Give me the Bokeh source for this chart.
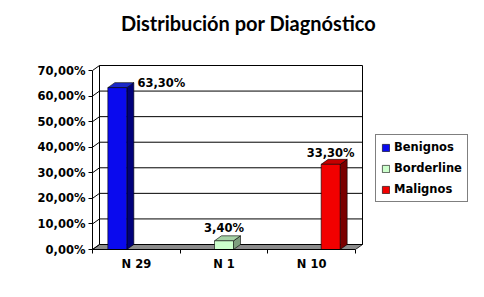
from bokeh.plotting import figure
from bokeh.models import Range1d, FixedTicker, ColumnDataSource, Legend, LegendItem, Label
from bokeh.embed import file_html
from bokeh.resources import INLINE
from bokeh.core.properties import value

# ---------------- data ----------------
chart_title = "Distribución por Diagnóstico"
categories = ["N 29", "N 1", "N 10"]
series_names = ["Benignos", "Borderline", "Malignos"]
benignos = [63.3, 0, 0]
borderline = [0, 3.4, 0]
malignos = [0, 0, 33.3]
y_ticks = [0, 10, 20, 30, 40, 50, 60, 70]
y_tick_labels = ["0,00%", "10,00%", "20,00%", "30,00%", "40,00%", "50,00%", "60,00%", "70,00%"]

# ---------------- style / layout ----------------
front_colors = ["#0A0AEE", "#CCFFCC", "#F20000"]
side_colors = ["#00007A", "#7E9E7E", "#7A0000"]
top_colors = ["#1B28C8", "#A6D2A6", "#C40000"]
label_shift_x = [44, 0, 0]   # px shift for value labels (per series)
label_shift_y = [7, -1, 1]

FONT = "DejaVu Sans"
W, H = 484, 297
FL, FB = 92, 249            # frame left / bottom (px from top-left)
WALL_R, WALL_T = 362, 65    # back wall right / top (px)
depth_x_px, depth_y_px = 7, 5
n = len(categories)
ymax = y_ticks[-1]
ppu_x = (WALL_R - FL - depth_x_px) / n
ppu_y = (FB - WALL_T - depth_y_px) / ymax
DX = depth_x_px / ppu_x
DY = depth_y_px / ppu_y
bw = 19 / ppu_x

def px_x(px):
    return -0.5 + (px - FL) / ppu_x

def px_y(py):
    return (FB - py) / ppu_y

p = figure(width=W, height=H,
           x_range=Range1d(-0.5, px_x(W)), y_range=Range1d(0, px_y(0)),
           output_backend="svg", toolbar_location=None,
           min_border_left=FL, min_border_right=0,
           min_border_top=0, min_border_bottom=H - FB)
p.outline_line_color = None
p.xgrid.visible = False
p.ygrid.visible = False
p.background_fill_color = "white"
p.border_fill_color = "white"

p.add_layout(Label(x=px_x(248), y=px_y(22), text=chart_title,
                   text_font="Lato", text_font_size="20px", text_font_style="bold",
                   text_align="center", text_baseline="middle", text_color="black"))

# floor
p.patch([-0.5, n - 0.5, n - 0.5 + DX, -0.5 + DX], [0, 0, DY, DY],
        fill_color="#8C8C8C", line_color="black", line_width=0.8)

# back wall gridlines and left wall diagonals
p.segment(x0=[-0.5 + DX] * len(y_ticks), y0=[t + DY for t in y_ticks],
          x1=[n - 0.5 + DX] * len(y_ticks), y1=[t + DY for t in y_ticks],
          line_color="black", line_width=1)
p.segment(x0=[-0.5] * len(y_ticks), y0=y_ticks,
          x1=[-0.5 + DX] * len(y_ticks), y1=[t + DY for t in y_ticks],
          line_color="black", line_width=1)
p.segment(x0=[-0.5 + DX, n - 0.5 + DX], y0=[DY, DY],
          x1=[-0.5 + DX, n - 0.5 + DX], y1=[ymax + DY, ymax + DY],
          line_color="black", line_width=1)

# bars
all_series = [benignos, borderline, malignos]
legend_items = []
lab_x, lab_y, lab_t, lab_dx, lab_dy = [], [], [], [], []
for i, (name, vals) in enumerate(zip(series_names, all_series)):
    L, R, T, sx, sy, tx, ty = [], [], [], [], [], [], []
    for j, v in enumerate(vals):
        if v <= 0:
            continue
        cx = j + (i - 1) * bw
        l, r = cx - bw / 2, cx + bw / 2
        L.append(l); R.append(r); T.append(v)
        sx.append([r, r + DX, r + DX, r]); sy.append([0, DY, v + DY, v])
        tx.append([l, r, r + DX, l + DX]); ty.append([v, v, v + DY, v + DY])
        lab_x.append(cx); lab_y.append(v + DY)
        lab_t.append(f"{v:.2f}".replace(".", ",") + "%")
        lab_dx.append(label_shift_x[i]); lab_dy.append(label_shift_y[i])
    p.patches(sx, sy, fill_color=side_colors[i], line_color="black", line_width=0.6)
    p.patches(tx, ty, fill_color=top_colors[i], line_color="black", line_width=0.6)
    r_front = p.quad(left=L, right=R, bottom=[0] * len(T), top=T,
                     fill_color=front_colors[i], line_color="black", line_width=0.6)
    legend_items.append(LegendItem(label=name, renderers=[r_front]))

lsrc = ColumnDataSource(dict(x=lab_x, y=lab_y, t=lab_t, dx=lab_dx, dy=lab_dy))
p.text(x="x", y="y", text="t", x_offset="dx", y_offset="dy", source=lsrc,
       text_align="center", text_baseline="bottom",
       text_font=value(FONT), text_font_style="bold", text_font_size="11.5px",
       text_color="black")

# axes
xa = p.xaxis[0]
xa.ticker = FixedTicker(ticks=list(range(n)), minor_ticks=[k - 0.5 for k in range(n + 1)])
xa.major_label_overrides = {k: c for k, c in enumerate(categories)}
xa.bounds = (-0.5, n - 0.5)
xa.major_tick_out = 0
xa.major_tick_in = 0
xa.minor_tick_out = 4
xa.minor_tick_in = 0
xa.major_label_standoff = 3
ya = p.yaxis[0]
ya.ticker = FixedTicker(ticks=y_ticks)
ya.major_label_overrides = {t: s for t, s in zip(y_ticks, y_tick_labels)}
ya.bounds = (0, ymax)
ya.major_tick_out = 4
ya.major_tick_in = 0
ya.minor_tick_out = 0
ya.minor_tick_in = 0
ya.major_label_standoff = 3
for ax in (xa, ya):
    ax.axis_line_color = "black"
    ax.major_tick_line_color = "black"
    ax.minor_tick_line_color = "black"
    ax.major_label_text_font = FONT
    ax.major_label_text_font_style = "bold"
    ax.major_label_text_font_size = "11.5px"
    ax.major_label_text_color = "black"

legend = Legend(items=legend_items, location=(375 - FL, FB - 202))
legend.border_line_color = "black"
legend.border_line_width = 1
legend.background_fill_color = "white"
legend.background_fill_alpha = 1
legend.label_text_font = FONT
legend.label_text_font_style = "bold"
legend.label_text_font_size = "11.5px"
legend.label_text_color = "black"
legend.glyph_width = 9
legend.glyph_height = 9
legend.label_height = 14
legend.spacing = 7
legend.padding = 5
legend.margin = 0
legend.label_standoff = 4
p.add_layout(legend)

open("out.html", "w").write(file_html(p, INLINE))
